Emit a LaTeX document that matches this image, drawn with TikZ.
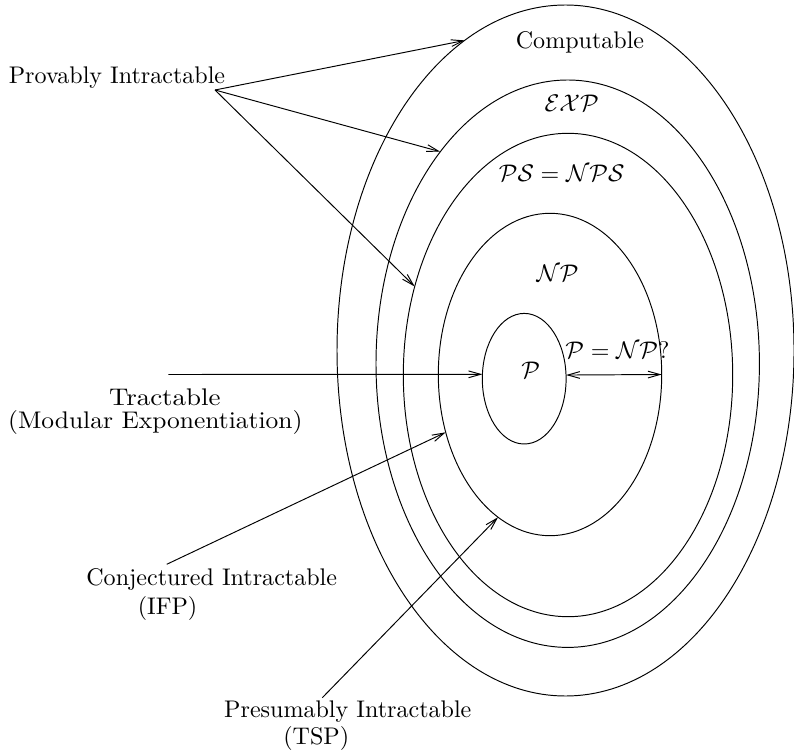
\documentclass[tikz,border=0pt]{standalone}
\usetikzlibrary{arrows.meta,shapes.geometric}
\begin{document}
\begin{tikzpicture}[x=0.4158pt,y=-0.4158pt,
  ring/.style={draw, ellipse, inner sep=0pt, outer sep=0pt, line width=0.4pt},
  lbl/.style={inner sep=0pt, outer sep=0pt, anchor=base},
  barb/.tip={Straight Barb[length=5pt,width=2.8pt]},
  arr/.style={-barb, line width=0.4pt},
  darr/.style={barb-barb, line width=0.4pt}]
\useasboundingbox (0,0) rectangle (794,754);
% nested classes
\node[ring, minimum width=190.02pt, minimum height=287.32pt] (comp) at (565.5,350.5) {};
\node[ring, minimum width=159.42pt, minimum height=235.93pt] (exp) at (567.7,363.7) {};
\node[ring, minimum width=136.96pt, minimum height=201.0pt] (ps) at (568,375) {};
\node[ring, minimum width=92.89pt, minimum height=134.05pt] (np) at (550,374.5) {};
\node[ring, minimum width=34.84pt, minimum height=54.30pt] (p) at (524.2,378.7) {};
% class labels
\node[lbl] (tcomp) at (580,48.3) {Computable};
\node[lbl] (texp) at (571.7,111.7) {$\mathcal{EXP}$};
\node[lbl] (tps) at (561.7,181.7) {$\mathcal{PS}=\mathcal{NPS}$};
\node[lbl] (tnp) at (557.5,281.7) {$\mathcal{NP}$};
\node[lbl] (tpnp) at (617.5,358.3) {$\mathcal{P}=\mathcal{NP}$?};
\node[lbl] (tp) at (530.7,378) {$\mathcal{P}$};
% side labels
\node[lbl] (prov) at (117,83.3) {Provably Intractable};
\node[lbl] (tract) at (164.8,405.5) {\scalebox{1.12}[1]{Tractable}};
\node[lbl] (modexp) at (155.3,428.5) {\scalebox{1.06}[1]{(Modular Exponentiation)}};
\node[lbl] (conj) at (211.7,585.7) {Conjectured Intractable};
\node[lbl] (ifp) at (167.5,614.5) {(IFP)};
\node[lbl] (pres) at (347.8,717.5) {Presumably Intractable};
\node[lbl] (tsp) at (316.3,744.5) {(TSP)};
% arrow start points
\coordinate (provs) at (215,90);
\coordinate (tracts) at (168.3,374.5);
\coordinate (conjs) at (166.7,564.3);
\coordinate (press) at (322.3,697.7);
% connectors
\draw[arr] (provs) -- (comp.108.9);
\draw[arr] (provs) -- (exp.121.6);
\draw[arr] (provs) -- (ps.150.7);
\draw[arr] (tracts) -- (p.174.3);
\draw[arr] (conjs) -- (np.209.5);
\draw[arr] (press) -- (np.250.8);
\draw[darr] (p.5.7) -- (np.east);
\end{tikzpicture}
\end{document}
